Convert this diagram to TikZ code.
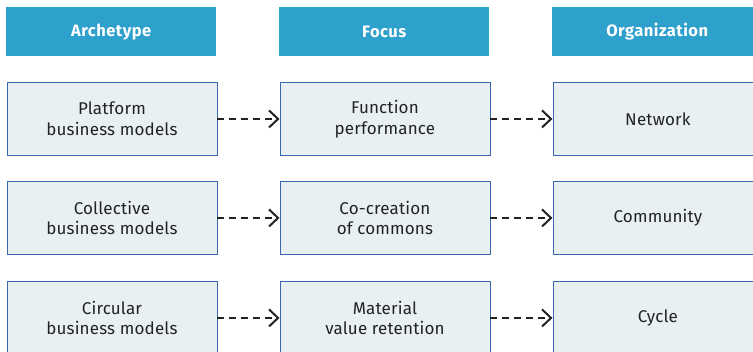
\documentclass[tikz,border=0pt]{standalone}
\usepackage{fontspec}
\setmainfont{Fira Sans}[LetterSpace=1]
\newfontfamily\headfont{Fira Sans}[LetterSpace=3]
\usetikzlibrary{arrows.meta}
\definecolor{headblue}{HTML}{2EA0CC}
\definecolor{boxfill}{HTML}{E9F0F3}
\definecolor{boxline}{HTML}{3A67B4}
\definecolor{txt}{HTML}{222222}
\begin{document}
\begin{tikzpicture}[x=1pt,y=-1pt,
  head/.style={fill=headblue,draw=none,minimum width=210pt,minimum height=49pt,inner sep=0pt,text=white,font=\headfont\fontsize{16.5}{18}\selectfont\bfseries,anchor=north west},
  cell/.style={fill=boxfill,draw=boxline,line width=0.9pt,minimum width=210pt,minimum height=73pt,inner sep=0pt,text=txt,align=center,font=\fontsize{17}{20.5}\selectfont,anchor=north west},
  flow/.style={-{Straight Barb[length=9pt,width=17pt,line width=2pt]},dash pattern=on 7pt off 5pt,line width=2pt,draw=txt}]
\useasboundingbox (0,0) rectangle (753,352);
\clip (0,0) rectangle (753,352);
\node[head] (h1) at (6,7) {Archetype};
\node[head] (h2) at (279,7) {Focus};
\node[head] (h3) at (552,7) {Organization};
\node[cell] (a1) at (6.5,82) {Platform\\business models};
\node[cell] (b1) at (279.5,82) {Function\\performance};
\node[cell] (c1) at (552.5,82) {Network};
\node[cell] (a2) at (6.5,181) {Collective\\business models};
\node[cell] (b2) at (279.5,181) {Co-creation\\of commons};
\node[cell] (c2) at (552.5,181) {Community};
\node[cell] (a3) at (6.5,281) {Circular\\business models};
\node[cell] (b3) at (279.5,281) {Material\\value retention};
\node[cell] (c3) at (552.5,281) {Cycle};
\foreach \r in {1,2,3}{
  \draw[flow] (a\r.east) -- (b\r.west);
  \draw[flow] (b\r.east) -- (c\r.west);
}
\end{tikzpicture}
\end{document}
